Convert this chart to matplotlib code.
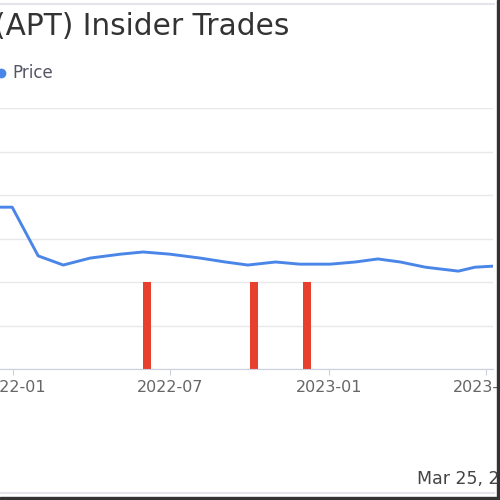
import matplotlib
matplotlib.use("Agg")
import matplotlib.pyplot as plt
from matplotlib.lines import Line2D
from matplotlib.patches import Rectangle
import pandas as pd

# price line (y axis labels are cropped away)
price_dates = ["2021-11-15", "2021-12-31", "2022-01-30", "2022-02-28", "2022-03-31",
               "2022-05-05", "2022-05-31", "2022-07-01", "2022-08-05", "2022-09-03",
               "2022-09-29", "2022-10-31", "2022-11-28", "2023-01-02", "2023-01-31",
               "2023-02-26", "2023-03-24", "2023-04-22", "2023-05-30", "2023-06-18",
               "2023-07-14"]
price_values = [3.72, 3.72, 2.60, 2.39, 2.55, 2.64, 2.69, 2.64, 2.55, 2.46,
                2.39, 2.46, 2.41, 2.41, 2.46, 2.53, 2.46, 2.34, 2.25, 2.34, 2.37]

# insider trades
trade_dates = ["2022-06-05", "2022-10-06", "2022-12-06"]
trade_sizes = [2, 2, 2]

x_ticks = ["2022-01-01", "2022-07-01", "2023-01-01", "2023-07-01"]
x_tick_labels = ["2022-01", "2022-07", "2023-01", "2023-07"]

title = "Alpha Pro Tech Ltd (APT) Insider Trades"
date_stamp = "Mar 25, 2024"

W = H = 500
fig = plt.figure(figsize=(5, 5), dpi=100)

# axes run off the left edge of the picture
left_px, right_px, top_px, bottom_px = -39.8, 493, 108, 369
ax = fig.add_axes([left_px / W, 1 - bottom_px / H,
                   (right_px - left_px) / W, (bottom_px - top_px) / H])

pdates = pd.to_datetime(price_dates)
tdates = pd.to_datetime(trade_dates)

ax.bar(tdates, trade_sizes, width=9, color="#e8402f", zorder=2)
ax.plot(pdates, price_values, color="#4a86e8", lw=2.1, zorder=3)

ax.set_xlim(pd.Timestamp("2021-11-01"), pd.Timestamp("2023-07-09"))
ax.set_ylim(0, 6)
ax.set_yticks(range(0, 7))
ax.set_yticklabels([])
ax.tick_params(axis="y", length=0)
ax.grid(axis="y", color="#e8e8ec", lw=1, zorder=0)

ax.set_xticks(pd.to_datetime(x_ticks))
ax.set_xticklabels(x_tick_labels, fontsize=11.5, color="#666666")
ax.tick_params(axis="x", length=4, color="#ccd0dc", pad=4)

for s in ["top", "right", "left"]:
    ax.spines[s].set_visible(False)
ax.spines["bottom"].set_color("#ccd0dc")

fig.text(289 / W, 1 - 35 / H, title, ha="right", va="baseline",
         fontsize=21.3, color="#333333", family="DejaVu Sans")
fig.add_artist(Line2D([1 / W], [1 - 73 / H], marker="o", ms=6,
                      color="#4a86e8", transform=fig.transFigure))
fig.text(12 / W, 1 - 73 / H, "Price", ha="left", va="center",
         fontsize=12, color="#555566", family="DejaVu Sans")
fig.text(417 / W, 1 - 484 / H, date_stamp, ha="left", va="baseline",
         fontsize=12.5, color="#444444", family="DejaVu Sans")

# card frame bits visible in the crop
fig.add_artist(Line2D([0, 494 / W], [1 - 4 / H] * 2, color="#e4e4ea", lw=1.5,
                      transform=fig.transFigure))
fig.add_artist(Line2D([0, 494 / W], [1 - 493 / H] * 2, color="#e4e4ea", lw=1.5,
                      transform=fig.transFigure))
fig.add_artist(Rectangle((497 / W, 0), 3 / W, 1, color="#333333",
                         transform=fig.transFigure))
fig.add_artist(Rectangle((0, 0), 1, 3 / H, color="#333333",
                         transform=fig.transFigure))

fig.savefig("out.png", dpi=100)
